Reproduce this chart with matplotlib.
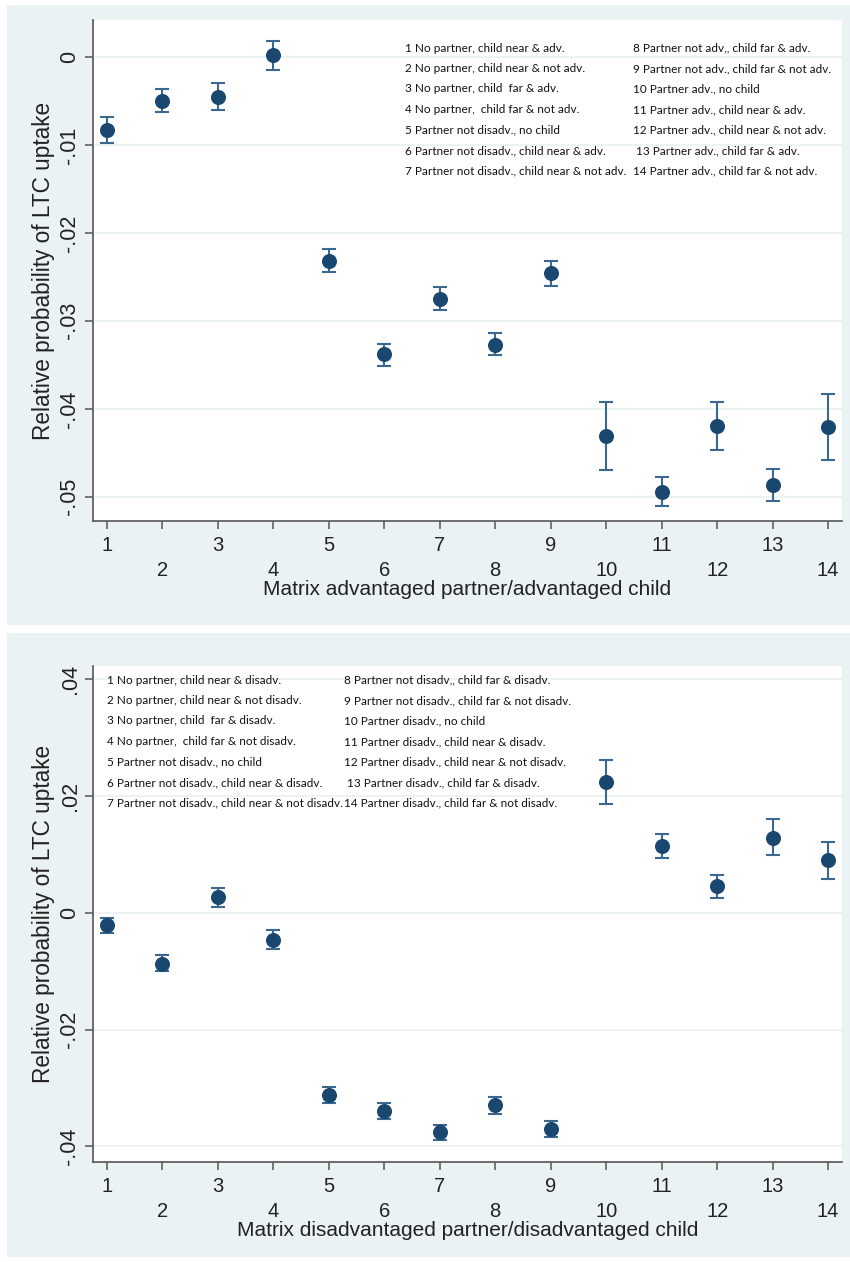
import matplotlib.pyplot as plt
from matplotlib.patches import Rectangle

W, H = 850, 1262

# matrix cells 1..14
cells = list(range(1, 15))

# top panel: advantaged partner / advantaged child
top_est = [-0.0083, -0.0050, -0.0046, 0.0002, -0.0232, -0.0338, -0.0275,
           -0.0327, -0.0246, -0.0431, -0.0495, -0.0419, -0.0487, -0.0421]
top_lo = [-0.0098, -0.0063, -0.0060, -0.0015, -0.0245, -0.0351, -0.0288,
          -0.0339, -0.0260, -0.0469, -0.0511, -0.0447, -0.0505, -0.0458]
top_hi = [-0.0068, -0.0036, -0.0030, 0.0018, -0.0218, -0.0326, -0.0262,
          -0.0314, -0.0232, -0.0392, -0.0477, -0.0392, -0.0468, -0.0383]
top_yticks = [0, -0.01, -0.02, -0.03, -0.04, -0.05]
top_yticklabels = ['0', '-.01', '-.02', '-.03', '-.04', '-.05']

# bottom panel: disadvantaged partner / disadvantaged child
bot_est = [-0.0021, -0.0087, 0.0027, -0.0046, -0.0312, -0.0339, -0.0376,
           -0.0330, -0.0370, 0.0225, 0.0114, 0.0046, 0.0129, 0.0090]
bot_lo = [-0.0035, -0.0100, 0.0010, -0.0062, -0.0326, -0.0354, -0.0389,
          -0.0344, -0.0384, 0.0187, 0.0094, 0.0026, 0.0099, 0.0058]
bot_hi = [-0.0008, -0.0073, 0.0043, -0.0030, -0.0298, -0.0326, -0.0363,
          -0.0316, -0.0357, 0.0262, 0.0135, 0.0065, 0.0160, 0.0121]
bot_yticks = [0.04, 0.02, 0, -0.02, -0.04]
bot_yticklabels = ['.04', '.02', '0', '-.02', '-.04']

top_legend = [
    "1 No partner, child near & adv.",
    "2 No partner, child near & not adv.",
    "3 No partner, child  far & adv.",
    "4 No partner,  child far & not adv.",
    "5 Partner not disadv., no child",
    "6 Partner not disadv., child near & adv.",
    "7 Partner not disadv., child near & not adv.",
    "8 Partner not adv,, child far & adv.",
    "9 Partner not adv., child far & not adv.",
    "10 Partner adv., no child",
    "11 Partner adv., child near & adv.",
    "12 Partner adv., child near & not adv.",
    " 13 Partner adv., child far & adv.",
    "14 Partner adv., child far & not adv.",
]
bot_legend = [
    "1 No partner, child near & disadv.",
    "2 No partner, child near & not disadv.",
    "3 No partner, child  far & disadv.",
    "4 No partner,  child far & not disadv.",
    "5 Partner not disadv., no child",
    "6 Partner not disadv., child near & disadv.",
    "7 Partner not disadv., child near & not disadv.",
    "8 Partner not disadv,, child far & disadv.",
    "9 Partner not disadv., child far & not disadv.",
    "10 Partner disadv., no child",
    "11 Partner disadv., child near & disadv.",
    "12 Partner disadv., child near & not disadv.",
    " 13 Partner disadv., child far & disadv.",
    "14 Partner disadv., child far & not disadv.",
]

BG = '#eaf2f3'
NAVY = '#1a476f'
BAR = '#3a6890'
AXC = '#555555'

plt.rcParams['font.family'] = ['Liberation Sans', 'DejaVu Sans']

fig = plt.figure(figsize=(W / 100, H / 100), dpi=100)

def px(x0, y0, x1, y1):
    # pixel box -> figure fraction [left, bottom, width, height]
    return [x0 / W, 1 - y1 / H, (x1 - x0) / W, (y1 - y0) / H]

# light panel backgrounds
for y0, y1 in [(5, 625), (633, 1257)]:
    b = px(7, y0, 850, y1)
    fig.patches.append(Rectangle((b[0], b[1]), b[2], b[3], transform=fig.transFigure,
                                 facecolor=BG, edgecolor='none', zorder=-10))

def panel(box, est, lo, hi, yticks, ylabels, ylim, xlabel, legend, lx1, lx2, ly0):
    ax = fig.add_axes(px(*box))
    ax.set_facecolor('white')
    yerr = [[e - l for e, l in zip(est, lo)], [h - e for e, h in zip(est, hi)]]
    ax.errorbar(cells, est, yerr=yerr, fmt='none', ecolor=BAR, elinewidth=1.5,
                capsize=4.8, capthick=1.5, zorder=3)
    ax.plot(cells, est, 'o', color=NAVY, markersize=9.8, zorder=4)
    ax.set_xlim(0.75, 14.25)
    ax.set_ylim(*ylim)
    ax.set_yticks(yticks)
    ax.set_yticklabels(ylabels)
    ax.set_xticks(cells)
    ax.set_xticklabels([str(c) if c % 2 else '\n' + str(c) for c in cells],
                       linespacing=1.35)
    ax.grid(axis='y', color=BG, linewidth=1.3, zorder=0)
    for s in ['top', 'right']:
        ax.spines[s].set_visible(False)
    for s in ['left', 'bottom']:
        ax.spines[s].set_color(AXC)
        ax.spines[s].set_linewidth(1.2)
    ax.tick_params(axis='both', colors=AXC, labelcolor='#222222', labelsize=14.5,
                   length=6, width=1.1)
    ax.tick_params(axis='x', pad=5)
    ax.tick_params(axis='y', labelrotation=90, pad=3, labelsize=15.5)
    for t in ax.get_yticklabels():
        t.set_va('center')
    ax.set_ylabel('Relative probability of LTC uptake', fontsize=16.3, color='#222222',
                  labelpad=3)
    ax.set_xlabel(xlabel, fontsize=15, color='#222222', labelpad=0)
    for i, txt in enumerate(legend):
        col = i // 7
        row = i % 7
        fig.text((lx1 if col == 0 else lx2) / W, 1 - (ly0 + row * 20.5) / H, txt,
                 fontsize=8.5, family=['Lato', 'DejaVu Sans'], color='#111111',
                 va='center', ha='left')
    return ax

panel((93, 20, 842, 521), top_est, top_lo, top_hi, top_yticks, top_yticklabels,
      (-0.05275, 0.0042), 'Matrix advantaged partner/advantaged child',
      top_legend, 405, 633, 48)
panel((93, 666, 842, 1162), bot_est, bot_lo, bot_hi, bot_yticks, bot_yticklabels,
      (-0.0427, 0.0423), 'Matrix disadvantaged partner/disadvantaged child',
      bot_legend, 107, 344, 680)

fig.savefig('out.png', dpi=100, facecolor='white')
